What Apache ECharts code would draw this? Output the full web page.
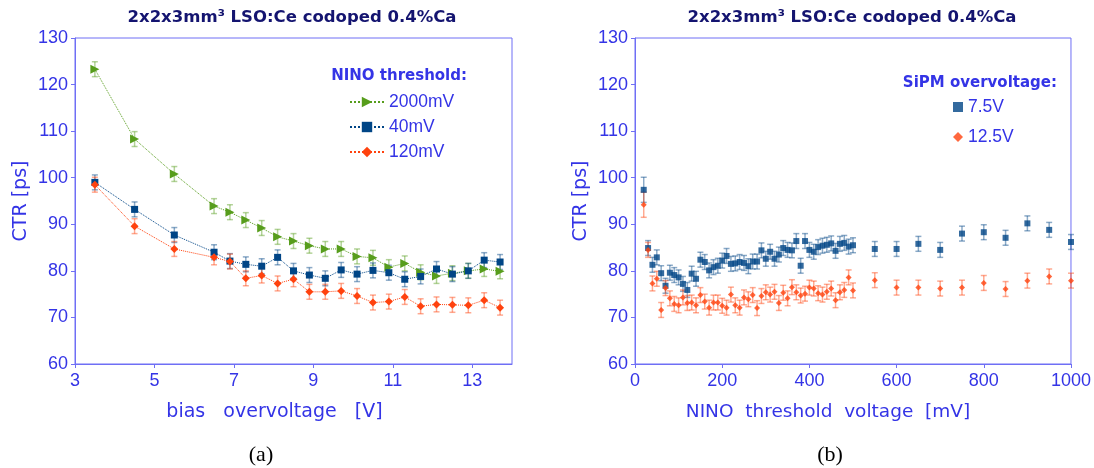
<!DOCTYPE html>
<html>
<head>
<meta charset="utf-8">
<script src="https://cdn.jsdelivr.net/npm/echarts@6/dist/echarts.min.js"></script>
<style>
html, body { margin: 0; padding: 0; background: #fff; }
#chart { width: 1094px; height: 468px; }
</style>
</head>
<body>
<div id="chart"></div>
<script>
// (a) CTR vs bias overvoltage, three NINO thresholds
const biasV = [3.5, 4.5, 5.5, 6.5, 6.9, 7.3, 7.7, 8.1, 8.5, 8.9, 9.3, 9.7, 10.1, 10.5, 10.9, 11.3, 11.7, 12.1, 12.5, 12.9, 13.3, 13.7];
const ctr2000 = [123.3, 108.3, 100.8, 93.9, 92.6, 90.9, 89.2, 87.3, 86.4, 85.4, 84.7, 84.7, 83.1, 82.8, 80.8, 81.6, 79.7, 78.9, 79.5, 80.0, 80.4, 79.9];
const ctr40 = [99.0, 93.2, 87.7, 84.0, 82.1, 81.4, 81.0, 82.9, 80.0, 79.1, 78.4, 80.2, 79.3, 80.1, 79.6, 78.2, 78.8, 80.4, 79.3, 80.0, 82.3, 81.9];
const ctr120 = [98.5, 89.6, 84.7, 82.9, 82.0, 78.4, 79.0, 77.3, 78.2, 75.5, 75.5, 75.7, 74.6, 73.2, 73.4, 74.4, 72.4, 72.8, 72.7, 72.6, 73.7, 72.1];
const errA = 1.6;

// (b) CTR vs NINO threshold, two SiPM overvoltages
const thrMv = [20, 30, 40, 50, 60, 70, 80, 90, 100, 110, 120, 130, 140, 150, 160, 170, 180, 190, 200, 210,
  220, 230, 240, 250, 260, 270, 280, 290, 300, 310, 320, 330, 340, 350, 360, 370, 380, 390, 400, 410,
  420, 430, 440, 450, 460, 470, 480, 490, 500, 550, 600, 650, 700, 750, 800, 850, 900, 950, 1000];
const ctr75 = [97.4, 84.9, 81.3, 82.9, 79.5, 76.8, 79.6, 79.1, 78.6, 77.2, 75.9, 79.4, 78.3, 82.4, 81.9, 80.1, 80.8, 81.1, 82.2, 83.2,
  81.5, 81.6, 81.9, 81.7, 81.0, 82.0, 82.0, 84.4, 82.6, 84.1, 82.6, 83.5, 84.9, 84.5, 84.4, 86.4, 81.1, 86.4, 84.5, 84.1,
  85.1, 85.4, 85.6, 85.9, 84.3, 85.8, 86.0, 85.2, 85.5, 84.7, 84.7, 85.8, 84.5, 88.0, 88.3, 87.1, 90.2, 88.8, 86.2];
const ctr125 = [94.2, 84.5, 77.3, 78.3, 71.6, 76.3, 74.1, 72.9, 72.6, 74.3, 73.1, 73.2, 72.6, 74.8, 73.4, 72.1, 73.2, 73.2, 72.5, 72.1,
  74.9, 72.6, 72.1, 74.3, 73.9, 74.8, 72.0, 74.6, 75.4, 74.9, 75.5, 73.1, 75.3, 74.1, 76.5, 75.4, 74.7, 75.1, 76.4, 76.2,
  75.2, 74.9, 75.5, 76.2, 73.7, 75.4, 75.9, 78.6, 75.8, 78.0, 76.4, 76.4, 76.2, 76.4, 77.4, 76.1, 77.9, 78.8, 77.9];
const errB = 1.6;
const errBFirst = 2.7;

const xTicksA = [3, 5, 7, 9, 11, 13];

const green = '#579d1c', blue = '#004586', red = '#ff420e';
const axisColor = '#6f6ff5';
const textColor = '#3434e6';
const tickFont = "'Liberation Sans', Arial, sans-serif";
const nameFont = "'DejaVu Sans', sans-serif";

const chart = echarts.init(document.getElementById('chart'));

function pairs(xs, ys) {
  return xs.map((x, i) => [x, ys[i]]);
}

function errorBars(xs, ys, errFn, color, idx) {
  return {
    type: 'custom',
    xAxisIndex: idx, yAxisIndex: idx,
    silent: true,
    z: 1,
    data: xs.map((x, i) => [x, ys[i] - errFn(i), ys[i] + errFn(i)]),
    renderItem: function (params, api) {
      const lo = api.coord([api.value(0), api.value(1)]);
      const hi = api.coord([api.value(0), api.value(2)]);
      const w = 3;
      const style = { stroke: color, lineWidth: 1.5 };
      return {
        type: 'group',
        children: [
          { type: 'line', shape: { x1: lo[0], y1: lo[1], x2: hi[0], y2: hi[1] }, style: style },
          { type: 'line', shape: { x1: lo[0] - w, y1: lo[1], x2: lo[0] + w, y2: lo[1] }, style: style },
          { type: 'line', shape: { x1: hi[0] - w, y1: hi[1], x2: hi[0] + w, y2: hi[1] }, style: style }
        ]
      };
    }
  };
}

function yAxis(idx) {
  return {
    type: 'value', gridIndex: idx, min: 60, max: 130, interval: 10,
    name: 'CTR [ps]', nameLocation: 'middle', nameGap: 44,
    nameTextStyle: { color: textColor, fontSize: 19, fontFamily: nameFont },
    axisLine: { show: true, lineStyle: { color: axisColor, width: 1 } },
    axisTick: { show: true, length: 4, lineStyle: { color: axisColor } },
    axisLabel: { color: textColor, fontSize: 18, fontFamily: tickFont, margin: 7 },
    splitLine: { show: false }
  };
}

const legendText = { color: textColor, fontSize: 17.5, lineHeight: 18, fontFamily: tickFont };
const titleFont = "bold 16.5px 'DejaVu Sans', sans-serif";
const headFont = "bold 15px 'DejaVu Sans', sans-serif";

const option = {
  animation: false,
  backgroundColor: '#fff',
  grid: [
    { left: 75, top: 38, width: 437, height: 326, show: true, borderColor: axisColor, borderWidth: 1 },
    { left: 635, top: 38, width: 436, height: 326, show: true, borderColor: axisColor, borderWidth: 1 }
  ],
  xAxis: [
    {
      type: 'value', gridIndex: 0, min: 3, max: 14,
      name: 'bias   overvoltage   [V]', nameLocation: 'middle', nameGap: 39,
      nameTextStyle: { color: textColor, fontSize: 19, fontFamily: nameFont, padding: [0, 38, 0, 0] },
      axisLine: { lineStyle: { color: axisColor } },
      axisTick: { customValues: xTicksA, length: 4, lineStyle: { color: axisColor } },
      axisLabel: { customValues: xTicksA, color: textColor, fontSize: 18, fontFamily: tickFont, margin: 8 },
      splitLine: { show: false }
    },
    {
      type: 'value', gridIndex: 1, min: 0, max: 1000, interval: 200,
      name: 'NINO  threshold  voltage  [mV]', nameLocation: 'middle', nameGap: 39,
      nameTextStyle: { color: textColor, fontSize: 18.5, fontFamily: nameFont, padding: [0, 50, 0, 0] },
      axisLine: { lineStyle: { color: axisColor } },
      axisTick: { length: 4, lineStyle: { color: axisColor } },
      axisLabel: { color: textColor, fontSize: 18, fontFamily: tickFont, margin: 8, formatter: v => String(v) },
      splitLine: { show: false }
    }
  ],
  yAxis: [yAxis(0), yAxis(1)],
  legend: [
    {
      left: 349, top: 93, padding: 0, orient: 'vertical', itemWidth: 34, itemHeight: 13, itemGap: 7,
      data: ['2000mV', '40mV', '120mV'],
      textStyle: legendText,
      selectedMode: false
    },
    {
      left: 953, top: 98, padding: 0, orient: 'vertical', itemWidth: 10, itemHeight: 10, itemGap: 12,
      data: [{ name: '7.5V', icon: 'rect' }, { name: '12.5V', icon: 'diamond' }],
      textStyle: legendText,
      selectedMode: false
    }
  ],
  graphic: [
    { type: 'text', x: 292, y: 18, style: { text: '2x2x3mm³ LSO:Ce codoped 0.4%Ca', fill: '#141470', font: titleFont, textAlign: 'center', textVerticalAlign: 'middle' } },
    { type: 'text', x: 852, y: 18, style: { text: '2x2x3mm³ LSO:Ce codoped 0.4%Ca', fill: '#141470', font: titleFont, textAlign: 'center', textVerticalAlign: 'middle' } },
    { type: 'text', x: 467, y: 76, style: { text: 'NINO threshold:', fill: textColor, font: headFont, textAlign: 'right', textVerticalAlign: 'middle' } },
    { type: 'text', x: 1057, y: 83, style: { text: 'SiPM overvoltage:', fill: textColor, font: headFont, textAlign: 'right', textVerticalAlign: 'middle' } },
    { type: 'text', x: 261, y: 455, style: { text: '(a)', fill: '#000', font: "22px 'Liberation Serif', serif", textAlign: 'center', textVerticalAlign: 'middle' } },
    { type: 'text', x: 830, y: 455, style: { text: '(b)', fill: '#000', font: "22px 'Liberation Serif', serif", textAlign: 'center', textVerticalAlign: 'middle' } }
  ],
  series: [
    errorBars(biasV, ctr2000, () => errA, 'rgba(87,157,28,0.45)', 0),
    errorBars(biasV, ctr40, () => errA, 'rgba(0,69,134,0.45)', 0),
    errorBars(biasV, ctr120, () => errA, 'rgba(255,66,14,0.45)', 0),
    {
      name: '2000mV', type: 'line', xAxisIndex: 0, yAxisIndex: 0, z: 3,
      data: pairs(biasV, ctr2000),
      symbol: 'triangle', symbolRotate: -90, symbolSize: 9,
      lineStyle: { color: green, width: 1, type: 'dotted' }, itemStyle: { color: green }
    },
    {
      name: '40mV', type: 'line', xAxisIndex: 0, yAxisIndex: 0, z: 3,
      data: pairs(biasV, ctr40),
      symbol: 'rect', symbolSize: 7,
      lineStyle: { color: blue, width: 1, type: 'dotted' }, itemStyle: { color: blue }
    },
    {
      name: '120mV', type: 'line', xAxisIndex: 0, yAxisIndex: 0, z: 3,
      data: pairs(biasV, ctr120),
      symbol: 'diamond', symbolSize: 8,
      lineStyle: { color: red, width: 1, type: 'dotted' }, itemStyle: { color: red }
    },
    errorBars(thrMv, ctr75, i => (i === 0 ? errBFirst : errB), 'rgba(0,69,134,0.45)', 1),
    errorBars(thrMv, ctr125, i => (i === 0 ? errBFirst : errB), 'rgba(255,66,14,0.45)', 1),
    {
      name: '7.5V', type: 'scatter', xAxisIndex: 1, yAxisIndex: 1, z: 3,
      data: pairs(thrMv, ctr75), symbol: 'rect', symbolSize: 6,
      itemStyle: { color: blue }
    },
    {
      name: '12.5V', type: 'scatter', xAxisIndex: 1, yAxisIndex: 1, z: 3,
      data: pairs(thrMv, ctr125), symbol: 'diamond', symbolSize: 6,
      itemStyle: { color: red }
    }
  ]
};

chart.setOption(option);
</script>
</body>
</html>
